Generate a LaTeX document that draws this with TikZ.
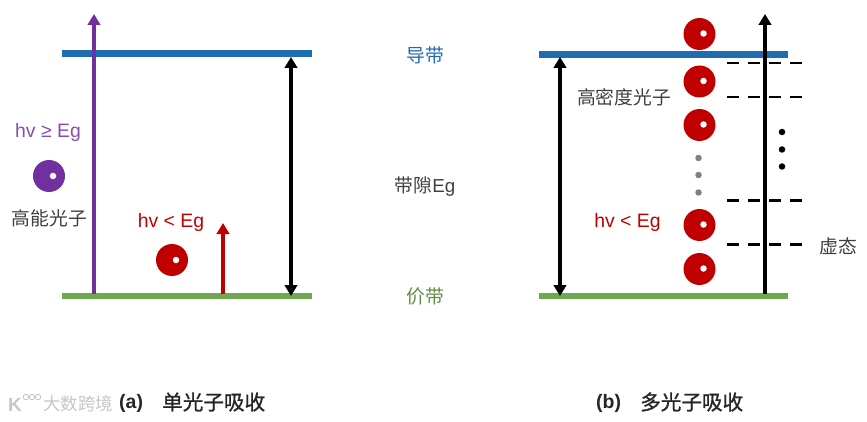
\documentclass[tikz,border=0pt]{standalone}
\usepackage{fontspec}
\setmainfont{Liberation Sans}
\newfontfamily\cjk{Noto Sans CJK SC}
\newfontfamily\cjkb[FakeBold=1.2]{Noto Sans CJK SC}
\usetikzlibrary{arrows.meta}
\definecolor{cblue}{HTML}{1F6DB0}
\definecolor{cgreen}{HTML}{6FA84F}
\definecolor{cpurple}{HTML}{7030A0}
\definecolor{cred}{HTML}{C00000}
\definecolor{ctext}{HTML}{404040}
\tikzset{
  bandline/.style={line width=6.5pt},
  upbig/.style={line width=4.2pt,-{Triangle[length=11pt,width=12.5pt]}},
  updouble/.style={line width=4.2pt,{Triangle[length=11pt,width=12.5pt]}-{Triangle[length=11pt,width=12.5pt]}},
  photon/.style={circle,fill=cred,minimum size=32pt,inner sep=0pt},
  photonp/.style={photon,fill=cpurple},
  hole/.style={circle,fill=white,minimum size=6.5pt,inner sep=0pt},
  gdot/.style={circle,fill=gray,minimum size=6.5pt,inner sep=0pt},
  bdot/.style={circle,fill=black,minimum size=6.5pt,inner sep=0pt},
  virt/.style={line width=2.7pt,dash pattern=on 12pt off 9pt},
  lab/.style={font=\cjk\fontsize{18.8}{22}\selectfont,text=ctext,inner sep=0pt},
  eq/.style={font=\fontsize{19.4}{22}\selectfont,inner sep=0pt},
  captext/.style={font=\cjkb\fontsize{20.6}{24}\selectfont,text=black!85,inner sep=0pt,anchor=west},
  capltn/.style={font=\bfseries\fontsize{19.5}{24}\selectfont,text=black!85,inner sep=0pt,anchor=west},
  wmark/.style={font=\cjk\fontsize{17.5}{20}\selectfont\color{gray!45},inner sep=0pt,anchor=west}
}
\begin{document}
\begin{tikzpicture}[x=1pt,y=-1pt]
\useasboundingbox (0,0) rectangle (867,422);
% band edges, left
\coordinate (lct0) at (62,53.5); \coordinate (lct1) at (312,53.5);
\coordinate (lvb0) at (62,296); \coordinate (lvb1) at (312,296);
% band edges, right
\coordinate (rct0) at (539,54.5); \coordinate (rct1) at (788,54.5);
\coordinate (rvb0) at (539,296); \coordinate (rvb1) at (788,296);
\draw[bandline,cblue] (lct0) -- (lct1);
\draw[bandline,cgreen] (lvb0) -- (lvb1);
\draw[bandline,cblue] (rct0) -- (rct1);
\draw[bandline,cgreen] (rvb0) -- (rvb1);
% left arrows
\coordinate (pa0) at (94,294); \coordinate (pa1) at (94,14);
\coordinate (ra0) at (223,294); \coordinate (ra1) at (223,223);
\coordinate (ga0) at (291,57); \coordinate (ga1) at (291,296);
\draw[upbig,cpurple] (pa0) -- (pa1);
\draw[upbig,cred] (ra0) -- (ra1);
\draw[updouble] (ga1) -- (ga0);
% right arrows
\coordinate (gb0) at (560,57); \coordinate (gb1) at (560,296);
\coordinate (ba0) at (765,294); \coordinate (ba1) at (765,14);
\draw[updouble] (gb1) -- (gb0);
% virtual states
\foreach \n/\y in {a/63,b/97,c/200.5,d/244.5}{
  \coordinate (v\n0) at (727,\y); \coordinate (v\n1) at (802,\y);
  \draw[virt] (v\n0) -- (v\n1);
}
\draw[upbig,black] (ba0) -- (ba1);
% photons, left
\node[photonp] (p1) at (49,176) {};
\node[hole] (p1h) at (53,176) {};
\node[photon] (p2) at (172,260) {};
\node[hole] (p2h) at (176,260) {};
% photons, right
\foreach \n/\y in {a/34,b/81.5,c/125,d/225,e/269}{
  \node[photon] (q\n) at (699.5,\y) {};
  \node[hole] (q\n h) at (703.5,\y-0.5) {};
}
\node[gdot] (g1) at (698.5,158) {};
\node[gdot] (g2) at (698.5,175) {};
\node[gdot] (g3) at (698.5,192.5) {};
\node[bdot] (b1) at (782,132) {};
\node[bdot] (b2) at (782,149.5) {};
\node[bdot] (b3) at (782,166.5) {};
% labels
\node[eq,text=cpurple!85!white] (t1) at (48,132) {hv ≥ Eg};
\node[lab] (t2) at (49.5,218) {高能光子};
\node[eq,text=cred] (t3) at (171,222) {hv < Eg};
\node[eq,text=cred] (t4) at (627.5,222) {hv < Eg};
\node[lab] (t5) at (624,97) {高密度光子};
\node[lab,text=cblue] (t6) at (425,55) {导带};
\node[lab] (t7) at (425,187) {带隙{\rmfamily Eg}};
\node[lab,text=cgreen!85!black] (t8) at (425,296) {价带};
\node[lab] (t9) at (838,246) {虚态};
\node[capltn] (c1) at (119,403) {(a)};
\node[captext] (c1b) at (162,402) {单光子吸收};
\node[capltn] (c2) at (596,403) {(b)};
\node[captext] (c2b) at (640,402) {多光子吸收};
% watermark
\node[wmark] (w) at (43,404) {大数跨境};
\node[font=\bfseries\fontsize{19}{20}\selectfont\color{gray!45},inner sep=0pt] (wk) at (15,405) {K};
\foreach \n/\x in {a/26,b/32,c/38}{
  \node[draw=gray!45,circle,line width=0.8pt,minimum size=5.5pt,inner sep=0pt] (w\n) at (\x,397) {};
}
\end{tikzpicture}
\end{document}
